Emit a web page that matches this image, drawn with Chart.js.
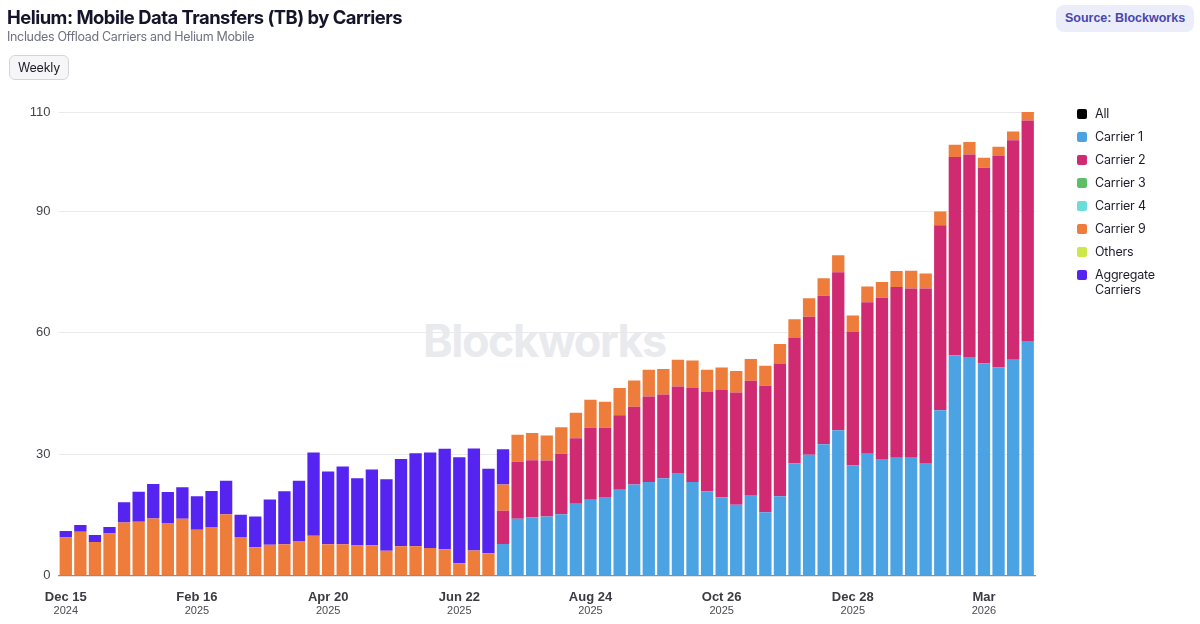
<!DOCTYPE html>
<html><head><meta charset="utf-8">
<style>
html,body{margin:0;padding:0;background:#fff;width:1200px;height:624px;overflow:hidden}
body{position:relative;font-family:Inter,sans-serif}
canvas{position:absolute;left:0;top:0}
.abs{position:absolute;white-space:nowrap}
#title{left:7px;top:5px;font-size:18.4px;font-weight:700;color:#14142b;letter-spacing:-.5px;line-height:24px}
#sub{left:7px;top:29px;font-size:12.5px;color:#6f7080;letter-spacing:-.33px;line-height:16px}
#weekly{left:9px;top:55px;width:58px;height:23px;border:1px solid #d4d5d9;border-radius:6px;background:#f6f6f8;font-size:12.5px;letter-spacing:-.2px;line-height:23px;text-align:center;color:#1c1c28}
#source{left:1056px;top:5px;width:138px;height:27px;border-radius:8px;background:#ecedfb;color:#4747ad;font:700 12.5px/27px "Liberation Sans",sans-serif;text-align:center}
#mark{left:423px;top:311px;font-size:45px;font-weight:700;color:#e9eaee;letter-spacing:-1.5px;line-height:60px}
#legend{left:1077px;top:105.5px;width:110px;font-size:12.5px;letter-spacing:-.2px;color:#1c1c2c}
.li{position:relative;padding-left:18px;line-height:15px;margin-bottom:8px;min-height:15px}
.li i{position:absolute;left:0;top:3px;width:10px;height:10px;border-radius:2px}
</style></head><body>
<div class="abs" id="mark">Blockworks</div>
<canvas id="c" width="1200" height="624"></canvas>
<div class="abs" id="title">Helium: Mobile Data Transfers (TB) by Carriers</div>
<div class="abs" id="sub">Includes Offload Carriers and Helium Mobile</div>
<div class="abs" id="weekly">Weekly</div>
<div class="abs" id="source">Source: Blockworks</div>
<div class="abs" id="legend"></div>
<script src="https://cdn.jsdelivr.net/npm/chart.js@4"></script>
<script>
const weeks = ['Dec 15 2024','Dec 22 2024','Dec 29 2024','Jan 5 2025','Jan 12 2025','Jan 19 2025','Jan 26 2025','Feb 2 2025','Feb 9 2025','Feb 16 2025','Feb 23 2025','Mar 2 2025','Mar 9 2025','Mar 16 2025','Mar 23 2025','Mar 30 2025','Apr 6 2025','Apr 13 2025','Apr 20 2025','Apr 27 2025','May 4 2025','May 11 2025','May 18 2025','May 25 2025','Jun 1 2025','Jun 8 2025','Jun 15 2025','Jun 22 2025','Jun 29 2025','Jul 6 2025','Jul 13 2025','Jul 20 2025','Jul 27 2025','Aug 3 2025','Aug 10 2025','Aug 17 2025','Aug 24 2025','Aug 31 2025','Sep 7 2025','Sep 14 2025','Sep 21 2025','Sep 28 2025','Oct 5 2025','Oct 12 2025','Oct 19 2025','Oct 26 2025','Nov 2 2025','Nov 9 2025','Nov 16 2025','Nov 23 2025','Nov 30 2025','Dec 7 2025','Dec 14 2025','Dec 21 2025','Dec 28 2025','Jan 4 2026','Jan 11 2026','Jan 18 2026','Jan 25 2026','Feb 1 2026','Feb 8 2026','Feb 15 2026','Feb 22 2026','Mar 1 2026','Mar 8 2026','Mar 15 2026','Mar 22 2026'];
const xTickLabels = ['Dec 15','Feb 16','Apr 20','Jun 22','Aug 24','Oct 26','Dec 28','Mar'];
const xTickYears = ['2024','2025','2025','2025','2025','2025','2025','2026'];
const xTickStep = 9;
const yTickValues = [0,30,60,90,114.5];
const yTickLabels = ['0','30','60','90','110'];
const N = null;
const pad30 = [N,N,N,N,N,N,N,N,N,N,N,N,N,N,N,N,N,N,N,N,N,N,N,N,N,N,N,N,N,N];
const carrier1 = [...pad30,7.8,14.0,14.3,14.6,15.1,17.7,18.7,19.4,21.2,22.5,23.1,24.0,25.3,23.1,20.8,19.3,17.5,19.9,15.6,19.6,27.7,29.8,32.4,35.9,27.2,30.1,28.8,29.1,29.1,27.8,40.8,54.4,54.0,52.4,51.4,53.3,57.9];
const carrier2 = [...pad30,8.2,14.1,14.2,13.8,15.0,16.2,17.8,17.1,18.4,19.2,21.1,20.7,21.4,23.2,24.5,26.5,27.7,28.2,31.3,32.8,31.1,34.1,36.7,39.0,33.1,37.4,39.8,42.2,41.8,43.1,45.7,49.0,50.0,48.3,52.2,54.2,54.5];
const carrier9 = [9.4,10.8,8.3,10.4,13.1,13.3,14.1,13.0,14.0,11.3,12.0,15.1,9.5,7.0,7.6,7.7,8.5,9.8,7.7,7.7,7.4,7.5,6.1,7.2,7.2,6.8,6.5,3.0,6.2,5.5,6.5,6.7,6.7,6.2,6.5,6.3,6.9,6.4,6.7,6.5,6.6,6.3,6.6,6.8,5.5,5.6,5.3,5.4,4.9,4.8,4.5,4.6,4.3,4.2,3.9,3.9,3.9,3.9,4.4,3.7,3.4,3.0,3.1,2.5,2.3,2.2,2.1];
const aggregate = [1.6,1.7,1.7,1.6,5.0,7.4,8.5,7.6,7.8,8.3,8.9,8.3,5.5,7.6,11.2,13.1,14.9,20.6,18.0,19.2,16.6,18.7,17.7,21.6,23.0,23.6,24.8,26.2,25.2,20.9,8.7];
const empty = [];
const seriesNames = ['All','Carrier 1','Carrier 2','Carrier 3','Carrier 4','Carrier 9','Others','Aggregate Carriers'];
const seriesColors = ['#000000','#4ba3e3','#d02b72','#5cbf68','#6adcdc','#ee7d3b','#cde64a','#5524f0'];
const seriesData = [empty,carrier1,carrier2,empty,empty,carrier9,empty,aggregate];

const chart = new Chart(document.getElementById('c'), {
  type:'bar',
  data:{labels:weeks,datasets:seriesNames.map((n,i)=>({label:n,data:seriesData[i],backgroundColor:seriesColors[i],borderWidth:0,stack:'a',barPercentage:0.845,categoryPercentage:1}))},
  options:{
    responsive:false,animation:false,
    layout:{padding:{left:0,right:165,top:112,bottom:0}},
    plugins:{legend:{display:false},tooltip:{enabled:false},title:{display:false}},
    scales:{
      x:{stacked:true,position:'bottom',offset:true,
        grid:{display:false,drawTicks:false},
        border:{display:true,color:'#8b8e96',width:1.2},
        ticks:{autoSkip:false,maxRotation:0,padding:14,color:'#3a3a42',font:{family:'"Liberation Sans"',size:13,weight:'700'},
          callback:(v,i)=>i%xTickStep===0?xTickLabels[i/xTickStep]:''},
        afterFit:s=>{s.height=29}},
      x2:{type:'category',labels:weeks,position:'bottom',offset:true,
        grid:{display:false,drawTicks:false},border:{display:false},
        ticks:{autoSkip:false,maxRotation:0,padding:0,color:'#4a4a52',font:{family:'"Liberation Sans"',size:11},
          callback:(v,i)=>i%xTickStep===0?xTickYears[i/xTickStep]:''},
        afterFit:s=>{s.height=19.5}},
      y:{stacked:true,min:0,max:114.5,position:'left',
        afterBuildTicks:s=>{s.ticks=yTickValues.map(v=>({value:v}))},
        afterFit:s=>{s.width=58.5},
        grid:{drawTicks:false,color:c=>c.index===0?'rgba(0,0,0,0)':'#e9e9ec',lineWidth:1},
        border:{display:false},
        ticks:{autoSkip:false,padding:8,color:'#44444c',font:{family:'"Liberation Sans"',size:13},
          callback:(v,i)=>yTickLabels[i]}}
    }
  }
});
document.getElementById('legend').innerHTML = chart.data.datasets.map(d=>{
  const t = d.label==='Aggregate Carriers'?'Aggregate<br>Carriers':d.label;
  return `<div class="li"><i style="background:${d.backgroundColor}"></i>${t}</div>`;
}).join('');
</script>
</body></html>
